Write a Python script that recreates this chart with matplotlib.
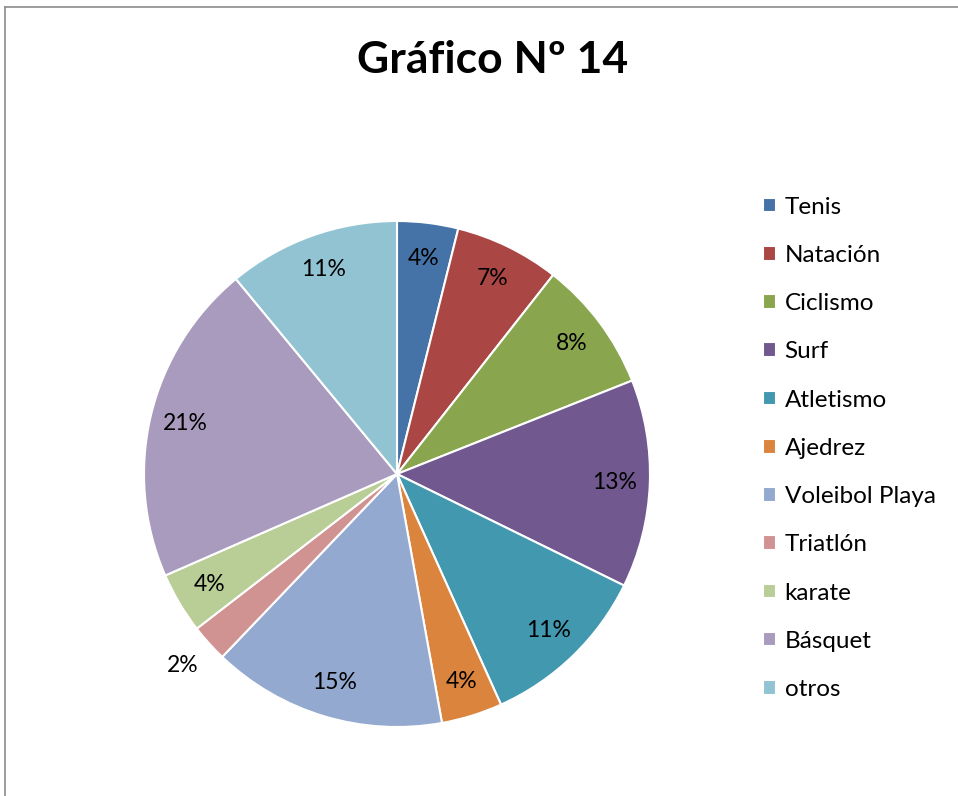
import matplotlib
matplotlib.use('Agg')
import matplotlib.pyplot as plt
from matplotlib.lines import Line2D

deportes = ['Tenis', 'Natación', 'Ciclismo', 'Surf', 'Atletismo', 'Ajedrez',
            'Voleibol Playa', 'Triatlón', 'karate', 'Básquet', 'otros']
porcentajes = [3.9, 6.7, 8.4, 13.3, 11.0, 3.9, 15.0, 2.4, 3.9, 20.6, 11.0]
colores = ['#4572A7', '#AA4643', '#89A54E', '#71588F', '#4198AF', '#DB843D',
           '#93A9CF', '#D19392', '#B9CD96', '#A99BBD', '#92C3D3']

plt.rcParams['font.family'] = ['Lato', 'DejaVu Sans']

W, H = 958, 796
fig = plt.figure(figsize=(W / 100, H / 100), dpi=100)

# pie centred at (397, 474) px, radius 253 px
cx, cy, r = 397, 474, 253
ax = fig.add_axes([(cx - r) / W, (H - cy - r) / H, 2 * r / W, 2 * r / H])
wedges, texts, autotexts = ax.pie(porcentajes, colors=colores, startangle=90,
                                  counterclock=False, autopct='%.0f%%',
                                  pctdistance=0.86,
                                  wedgeprops=dict(edgecolor='white', linewidth=1.5),
                                  textprops=dict(fontsize=16.5, color='black'))
ax.set_xlim(-1, 1)
ax.set_ylim(-1, 1)
ax.set_aspect('equal')

# small slice label sits outside
autotexts[7].set_position((-214 / r, -191 / r))

fig.text(493 / W, 1 - 60 / H, 'Gráfico Nº 14', ha='center', va='center',
         fontsize=32, fontweight='bold')

fig.legend(wedges, deportes, loc='upper left', bbox_to_anchor=(753 / W, 1 - 187 / H),
           frameon=False, fontsize=17.5, handlelength=0.55, handleheight=0.55,
           handletextpad=0.35, labelspacing=1.12, borderaxespad=0)

# chart border (left and top edges visible)
fig.add_artist(Line2D([5 / W, 5 / W], [0, 1 - 7 / H], color='#8c8c8c', lw=1.2))
fig.add_artist(Line2D([5 / W, 1], [1 - 7 / H, 1 - 7 / H], color='#8c8c8c', lw=1.2))

fig.savefig('out.png', dpi=100)
